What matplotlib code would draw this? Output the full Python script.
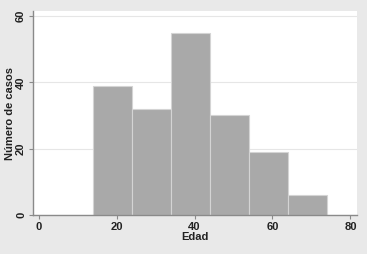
import numpy as np
import matplotlib
matplotlib.use("Agg")
import matplotlib.pyplot as plt

# histogram bins (edad) and counts
bin_edges = [14, 24, 34, 44, 54, 64, 74]
counts = [39, 32, 55, 30, 19, 6]
xticks = [0, 20, 40, 60, 80]
yticks = [0, 20, 40, 60]

plt.rcParams['font.family'] = ['Liberation Sans', 'DejaVu Sans']

fig = plt.figure(figsize=(3.67, 2.54), dpi=100)
fig.patch.set_facecolor('#e9e9e9')
ax = fig.add_axes([33/367, 1 - 215/254, 324/367, 204/254])
ax.set_facecolor('white')

lefts = np.array(bin_edges[:-1])
widths = np.diff(bin_edges)
ax.bar(lefts, counts, width=widths, align='edge', color='#a9a9a9',
       edgecolor='#d4d4d4', linewidth=0.8, zorder=2)

ax.set_xlim(-1.5, 81.7)
ax.set_ylim(0, 61.5)
ax.set_xticks(xticks)
ax.set_yticks(yticks)
ax.yaxis.grid(True, color='#e6e6e6', linewidth=0.8, zorder=0)
ax.set_axisbelow(True)

for s in ['top', 'right']:
    ax.spines[s].set_visible(False)
for s in ['left', 'bottom']:
    ax.spines[s].set_color('#8a8a8a')
    ax.spines[s].set_linewidth(1.0)

ax.tick_params(axis='both', length=3, width=0.8, color='#8a8a8a',
               labelsize=8, pad=2)
for lbl in ax.get_yticklabels():
    lbl.set_rotation(90)
    lbl.set_va('center')
for lbl in ax.get_xticklabels() + ax.get_yticklabels():
    lbl.set_fontweight('bold')
    lbl.set_color('#222222')

ax.set_xlabel('Edad', fontsize=8, fontweight='bold', labelpad=0, color='#222222')
ax.set_ylabel('Número de casos', fontsize=8, fontweight='bold', labelpad=1, color='#222222')

fig.savefig('out.png', dpi=100, facecolor=fig.get_facecolor())
